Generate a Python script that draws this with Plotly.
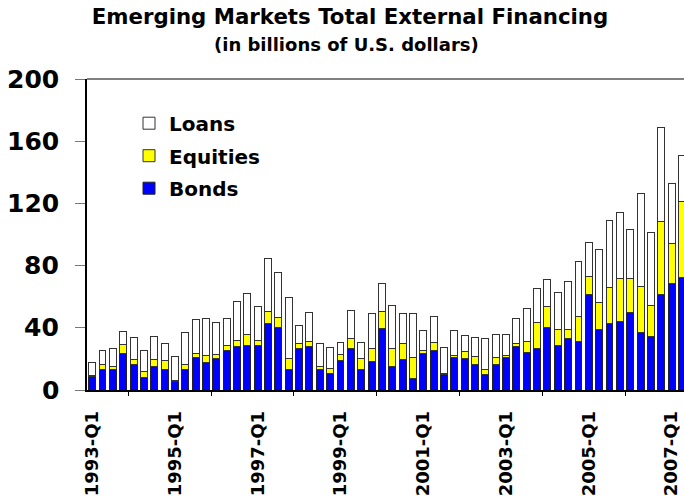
import plotly.graph_objects as go

quarters = [f"{y}-Q{q}" for y in range(1993, 2008) for q in range(1, 5)][:58]

bonds = [9.0, 12.9, 12.9, 23.6, 16.1, 8.1, 14.8, 13.5, 5.4, 13.5,
         20.6, 17.8, 20.1, 25.1, 27.7, 28.7, 28.3, 42.9, 40.1, 12.9,
         26.4, 27.7, 13.5, 10.7, 18.9, 26.4, 13.5, 18.6, 39.7, 15.4,
         19.3, 7.5, 23.6, 25.7, 9.9, 21.0, 20.1, 16.7, 9.9, 16.7,
         20.8, 28.1, 24.2, 26.8, 40.1, 28.9, 33.2, 31.3, 61.5, 39.0,
         42.9, 43.9, 49.9, 36.7, 34.1, 61.1, 68.2, 72.2]
equities = [0.6, 3.6, 2.1, 5.8, 3.6, 3.7, 4.9, 5.6, 0.6, 2.8,
            3.0, 4.1, 2.8, 3.6, 4.2, 6.9, 3.6, 7.7, 6.6, 7.5,
            3.2, 3.6, 1.3, 3.0, 4.0, 7.0, 6.6, 8.2, 10.9, 11.4,
            10.3, 13.3, 2.1, 5.0, 1.0, 1.5, 4.6, 4.7, 3.6, 4.1,
            1.3, 1.5, 6.9, 16.9, 13.7, 9.9, 5.8, 15.9, 11.2, 17.4,
            22.7, 27.7, 22.1, 29.8, 20.3, 47.4, 25.9, 49.1]
loans = [8.0, 8.8, 11.4, 8.5, 14.0, 13.3, 14.8, 10.9, 15.4, 20.6,
         21.8, 24.2, 20.4, 17.4, 25.1, 26.6, 22.1, 33.9, 28.8, 39.0,
         11.8, 18.6, 15.2, 13.7, 7.8, 17.8, 10.6, 22.1, 18.0, 27.6,
         19.9, 28.1, 12.7, 16.5, 16.5, 15.9, 10.2, 12.5, 19.5, 14.8,
         13.5, 16.1, 21.2, 21.3, 17.2, 24.0, 30.5, 35.3, 22.0, 34.1,
         43.1, 42.4, 31.1, 59.8, 47.0, 60.4, 38.8, 29.6]

tick_labels = ["1993-Q1", "1995-Q1", "1997-Q1", "1999-Q1",
               "2001-Q1", "2003-Q1", "2005-Q1", "2007-Q1"]
y_ticks = [0, 40, 80, 120, 160, 200]

xpos = list(range(len(quarters)))
FONT = "DejaVu Sans"

W, H = 684, 504
L, T, B = 87, 79, 114
PW, PH = W - L, H - T - B

fig = go.Figure()
for name, vals, color, lc, rank in [("Bonds", bonds, "#0000FF", "#222222", 3),
                                    ("Equities", equities, "#FFFF00", "#333333", 2),
                                    ("Loans", loans, "#FFFFFF", "#333333", 1)]:
    fig.add_trace(go.Bar(x=xpos, y=vals, name=name, legendgroup=name, legendrank=rank,
                         customdata=quarters,
                         marker=dict(color=color, line=dict(color=lc, width=1))))

label_pos = [quarters.index(t) for t in tick_labels]
major_bounds = [p - 0.5 for p in label_pos]
minor_bounds = [p + 3.5 for p in label_pos]
xr = [-0.5, 57.2]

# y tick labels placed as text at the tick values (right edge ~26px left of the axis)
ytick_annots = [dict(text=str(v), xref="paper", yref="y", x=-26 / PW, y=v,
                     xanchor="right", yanchor="middle", showarrow=False,
                     font=dict(family=FONT, size=25, color="black", weight="bold"))
                for v in y_ticks]

fig.update_layout(
    width=W, height=H,
    margin=dict(l=L, r=0, t=T, b=B, pad=0),
    barmode="stack", bargap=0.33,
    plot_bgcolor="white", paper_bgcolor="white",
    showlegend=True,
    legend=dict(x=(129 - L) / PW, y=1 - (103.7 - T) / PH, xanchor="left", yanchor="top",
                traceorder="grouped", tracegroupgap=3.5,
                bgcolor="rgba(0,0,0,0)",
                font=dict(family=FONT, size=20, color="black", weight="bold")),
    title=dict(text="Emerging Markets Total External Financing",
               x=350 / W, xanchor="center", xref="container",
               y=1 - 17 / H, yanchor="middle", yref="container",
               font=dict(family=FONT, size=21.3, color="black", weight="bold")),
    xaxis=dict(range=xr, showgrid=False, zeroline=False,
               showline=True, linecolor="black", linewidth=1.5,
               tickmode="array", tickvals=label_pos, ticktext=tick_labels,
               ticks="", tickangle=-90, ticklabelstandoff=12,
               tickfont=dict(family=FONT, size=18, color="black", weight="bold"),
               minor=dict(tickmode="array", tickvals=minor_bounds,
                          ticks="outside", ticklen=4, tickcolor="black", tickwidth=1)),
    xaxis2=dict(range=xr, overlaying="x", anchor="y", side="bottom",
                showgrid=False, zeroline=False, showline=False,
                tickmode="array", tickvals=major_bounds,
                ticks="outside", ticklen=6, tickcolor="black", tickwidth=1,
                showticklabels=False),
    yaxis=dict(range=[0, 200], showgrid=False, zeroline=False,
               showline=True, linecolor="black", linewidth=1.5,
               tickmode="array", tickvals=y_ticks,
               ticks="outside", ticklen=10, tickcolor="#777777", tickwidth=1,
               showticklabels=False),
    shapes=[dict(type="line", xref="paper", yref="paper", x0=0, x1=1, y0=1, y1=1,
                 line=dict(color="#808080", width=2))],
    annotations=[dict(text="(in billions of U.S. dollars)", xref="paper", yref="paper",
                      x=(346.5 - L) / PW, y=(390 - 44) / PH,
                      xanchor="center", yanchor="middle", showarrow=False,
                      font=dict(family=FONT, size=18, color="black", weight="bold"))]
                + ytick_annots,
)

fig.write_html("out.html",
               config={"displayModeBar": False},
               post_script="document.body.style.margin='0';document.body.style.overflow='hidden';")
